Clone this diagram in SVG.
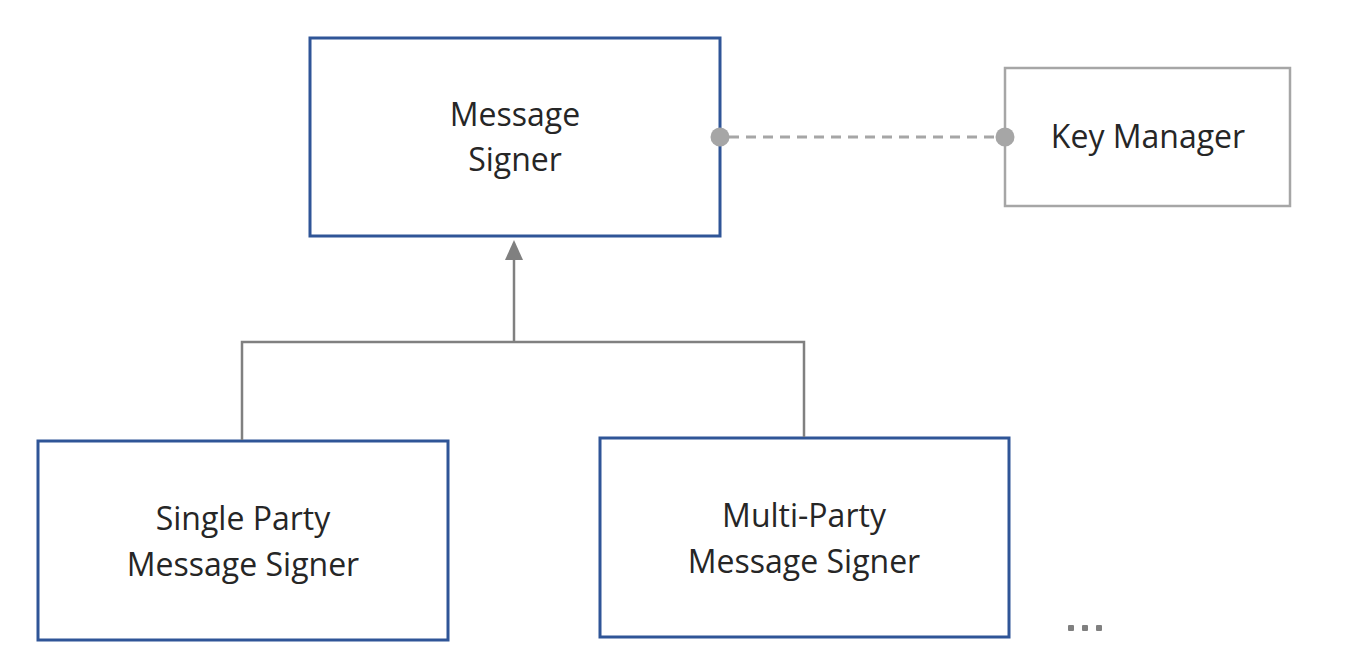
<svg xmlns="http://www.w3.org/2000/svg" width="1350" height="672" viewBox="0 0 1350 672">
<style>
.box{fill:#fff;stroke:#2F5597;stroke-width:3}
.gbox{fill:#fff;stroke:#A6A6A6;stroke-width:2.5}
.t{font-family:"Open Sans","Liberation Sans",sans-serif;font-size:32px;fill:#262626;text-anchor:middle}
.conn{fill:none;stroke:#808080;stroke-width:2.5}
</style>
<rect width="1350" height="672" fill="#fff"/>
<g id="message-signer">
<rect class="box" x="310" y="38" width="410" height="198"/>
<text class="t" x="515" y="126">Message</text>
<text class="t" x="515" y="171">Signer</text>
</g>
<g id="key-manager">
<rect class="gbox" x="1005" y="68" width="285" height="138"/>
<text class="t" x="1148" y="148">Key Manager</text>
</g>
<g id="single-party">
<rect class="box" x="38" y="441" width="410" height="199"/>
<text class="t" x="243" y="530">Single Party</text>
<text class="t" x="243" y="576">Message Signer</text>
</g>
<g id="multi-party">
<rect class="box" x="600" y="438" width="409" height="199"/>
<text class="t" x="804" y="527">Multi-Party</text>
<text class="t" x="804" y="573">Message Signer</text>
</g>
<g id="ellipsis" fill="#808080">
<rect x="1068" y="625" width="6" height="6" rx="1"/>
<rect x="1082" y="625" width="6" height="6" rx="1"/>
<rect x="1096" y="625" width="6" height="6" rx="1"/>
</g>
<g id="connectors">
<path class="conn" d="M242,440 V342 H804 V437"/>
<path class="conn" d="M514,342 V258"/>
<path d="M514,240 L505,260 L523,260 Z" fill="#808080"/>
<line x1="729" y1="137" x2="996" y2="137" stroke="#A6A6A6" stroke-width="3" stroke-dasharray="10,7"/>
<circle cx="720" cy="137" r="9.5" fill="#A6A6A6"/>
<circle cx="1005" cy="137" r="9.5" fill="#A6A6A6"/>
</g>
</svg>
